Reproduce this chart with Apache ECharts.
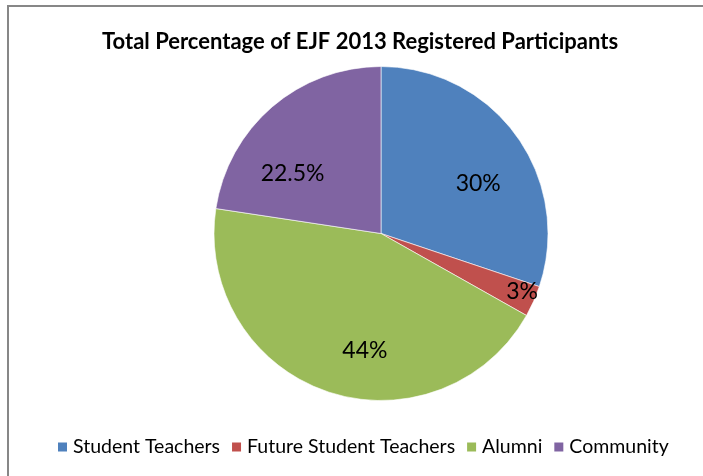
<!DOCTYPE html>
<html>
<head>
<meta charset="utf-8">
<script src="https://cdn.jsdelivr.net/npm/echarts@6/dist/echarts.min.js"></script>
<style>
	html, body { margin: 0; padding: 0; background: #fff; overflow: hidden; }
	#pieChart { width: 703px; height: 476px; }
</style>
</head>
<body>
<div id="pieChart"></div>
<script>
var categories = ['Student Teachers', 'Future Student Teachers', 'Alumni', 'Community'];
var percents = [30, 3, 44, 22.5];

var myColor = ['#4F81BD', '#C0504D', '#9BBB59', '#8064A2'];
// nudges for the in-slice labels (Excel "best fit")
var labelOffsets = [[27, 1], [62, 23], [12, 35], [-32, 6]];

var pieChart = echarts.init(document.getElementById('pieChart'));

var pieData = categories.map(function(name, i) {
	return {
		name: name,
		value: percents[i],
		itemStyle: { color: myColor[i] },
		label: { offset: labelOffsets[i] }
	};
});

pieChart.setOption({
	animation: false,
	backgroundColor: '#fff',
	// frame round the chart area
	graphic: [{
		type: 'rect',
		shape: { x: 8, y: 6, width: 760, height: 560 },
		style: { fill: 'none', stroke: '#878787', lineWidth: 2 },
		silent: true
	}],
	title: {
		text: 'Total Percentage of EJF 2013 Registered Participants',
		left: 102,
		top: 31,
		padding: 0,
		textStyle: {
			fontFamily: 'Lato',
			fontWeight: 'bold',
			fontSize: 22,
			color: '#000'
		}
	},
	legend: {
		data: categories,
		left: 56,
		top: 437,
		icon: 'rect',
		itemWidth: 11,
		itemHeight: 11,
		itemGap: 10,
		padding: 0,
		textStyle: {
			fontFamily: 'Lato',
			fontSize: 19.5,
			color: '#000'
		}
	},
	series: [{
		name: 'Participants',
		type: 'pie',
		center: [381, 233.5],
		radius: [0, 167],
		startAngle: 90,
		clockwise: true,
		itemStyle: {
			borderColor: '#fff',
			borderWidth: 0.6
		},
		label: {
			show: true,
			position: 'inside',
			formatter: function(p) { return p.value + '%'; },
			fontFamily: 'Lato',
			fontSize: 23,
			color: '#000'
		},
		labelLine: { show: false },
		emphasis: { disabled: true },
		data: pieData
	}]
});
</script>
</body>
</html>
